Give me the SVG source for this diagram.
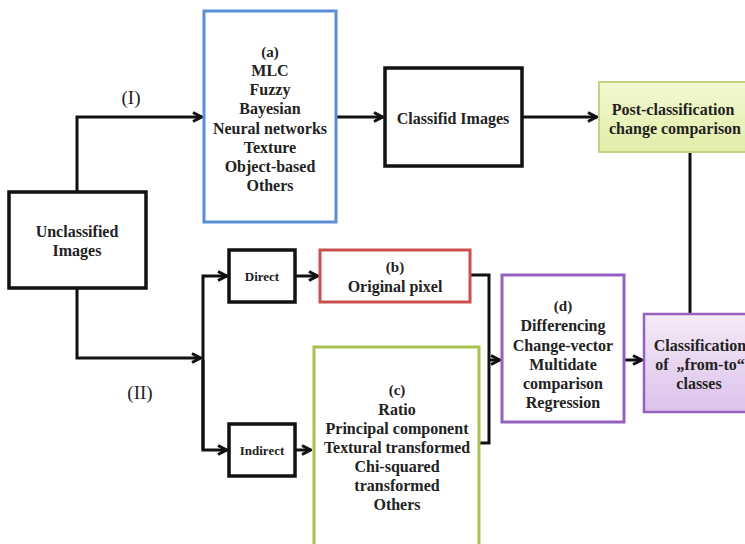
<svg xmlns="http://www.w3.org/2000/svg" width="745" height="544" viewBox="0 0 745 544">
<defs>
<marker id="arr" viewBox="0 0 12 12" refX="11" refY="6" markerWidth="12" markerHeight="12" markerUnits="userSpaceOnUse" orient="auto">
<path d="M2,1.5 L10.5,6 L2,10.5" fill="none" stroke="#111" stroke-width="3" stroke-linejoin="miter"/>
</marker>
<linearGradient id="gy" x1="0" y1="0" x2="0" y2="1">
<stop offset="0" stop-color="#f4f9d2"/>
<stop offset="1" stop-color="#e2eda8"/>
</linearGradient>
<linearGradient id="gp" x1="0" y1="0" x2="0" y2="1">
<stop offset="0" stop-color="#f5ebf8"/>
<stop offset="1" stop-color="#dcc2ea"/>
</linearGradient>
</defs>
<style>
.t{font-family:"Liberation Serif","Times New Roman",serif;font-weight:bold;font-size:16px;fill:#222;text-anchor:middle;dominant-baseline:central}
.s{font-size:13px}
.lab{font-family:"Liberation Serif","Times New Roman",serif;font-size:19px;fill:#222;text-anchor:middle;dominant-baseline:central}
.bk{fill:#fff;stroke:#111;stroke-width:3.5}
.ln{fill:none;stroke:#111;stroke-width:3}
</style>
<rect width="745" height="544" fill="#fff"/>

<g id="connectors">
<path class="ln" d="M77,192 V117 H202" marker-end="url(#arr)"/>
<path class="ln" d="M336,117 H383" marker-end="url(#arr)"/>
<path class="ln" d="M522,117 H597" marker-end="url(#arr)"/>
<path class="ln" d="M690,152 V313"/>
<path class="ln" d="M77,288 V358 H201" marker-end="url(#arr)"/>
<path class="ln" d="M203,450 V276 H227" marker-end="url(#arr)"/>
<path class="ln" d="M203,360 V450 H227" marker-end="url(#arr)"/>
<path class="ln" d="M295,276 H318" marker-end="url(#arr)"/>
<path class="ln" d="M295,450 H311" marker-end="url(#arr)"/>
<path class="ln" d="M470,275 H489 V443 H478"/>
<path class="ln" d="M489,360 H500" marker-end="url(#arr)"/>
<path class="ln" d="M624,360 H642" marker-end="url(#arr)"/>
</g>

<text class="lab" x="131" y="97">(I)</text>
<text class="lab" x="140" y="392">(II)</text>

<g id="unclassified">
<rect class="bk" x="9" y="192" width="137" height="96"/>
<text class="t" x="77" y="231">Unclassified</text>
<text class="t" x="77" y="250">Images</text>
</g>

<g id="box-a">
<rect x="204" y="11" width="132" height="211" fill="#fff" stroke="#5b8ed6" stroke-width="3"/>
<text class="t" x="270" y="52" style="font-size:15px">(a)</text>
<text class="t" x="270" y="70">MLC</text>
<text class="t" x="270" y="89">Fuzzy</text>
<text class="t" x="270" y="108">Bayesian</text>
<text class="t" x="270" y="128" textLength="114" lengthAdjust="spacingAndGlyphs">Neural networks</text>
<text class="t" x="270" y="147">Texture</text>
<text class="t" x="270" y="166">Object-based</text>
<text class="t" x="270" y="185">Others</text>
</g>

<g id="classified">
<rect class="bk" x="385" y="68" width="137" height="98"/>
<text class="t" x="453" y="118">Classifid Images</text>
</g>

<g id="post">
<rect x="599" y="82" width="160" height="70" fill="url(#gy)" stroke="#c2d57e" stroke-width="2"/>
<text class="t" x="673" y="109">Post-classification</text>
<text class="t" x="675" y="128">change comparison</text>
</g>

<g id="direct">
<rect class="bk" x="229" y="250" width="66" height="52"/>
<text class="t s" x="262" y="276">Direct</text>
</g>

<g id="indirect">
<rect class="bk" x="229" y="424" width="66" height="52"/>
<text class="t s" x="262" y="450">Indirect</text>
</g>

<g id="box-b">
<rect x="320" y="250" width="150" height="52" fill="#fff" stroke="#c9504c" stroke-width="3"/>
<text class="t" x="395" y="267" style="font-size:15px">(b)</text>
<text class="t" x="395" y="286">Original pixel</text>
</g>

<g id="box-c">
<rect x="314" y="347" width="165" height="210" fill="#fff" stroke="#a8c150" stroke-width="3"/>
<text class="t" x="397" y="390" style="font-size:15px">(c)</text>
<text class="t" x="397" y="409">Ratio</text>
<text class="t" x="397" y="428" textLength="143" lengthAdjust="spacingAndGlyphs">Principal component</text>
<text class="t" x="397" y="447" textLength="146" lengthAdjust="spacingAndGlyphs">Textural transformed</text>
<text class="t" x="397" y="466">Chi-squared</text>
<text class="t" x="397" y="485">transformed</text>
<text class="t" x="397" y="504">Others</text>
</g>

<g id="box-d">
<rect x="502" y="275" width="122" height="147" fill="#fff" stroke="#9461c0" stroke-width="3"/>
<text class="t" x="563" y="306" style="font-size:15px">(d)</text>
<text class="t" x="563" y="325">Differencing</text>
<text class="t" x="563" y="345">Change-vector</text>
<text class="t" x="563" y="364">Multidate</text>
<text class="t" x="563" y="383">comparison</text>
<text class="t" x="563" y="402">Regression</text>
</g>

<g id="classification">
<rect x="644" y="314" width="112" height="98" fill="url(#gp)" stroke="#9461c0" stroke-width="2.5"/>
<text class="t" x="700" y="345">Classification</text>
<text class="t" x="700" y="364" xml:space="preserve">of  „from-to“</text>
<text class="t" x="699" y="383">classes</text>
</g>
</svg>
